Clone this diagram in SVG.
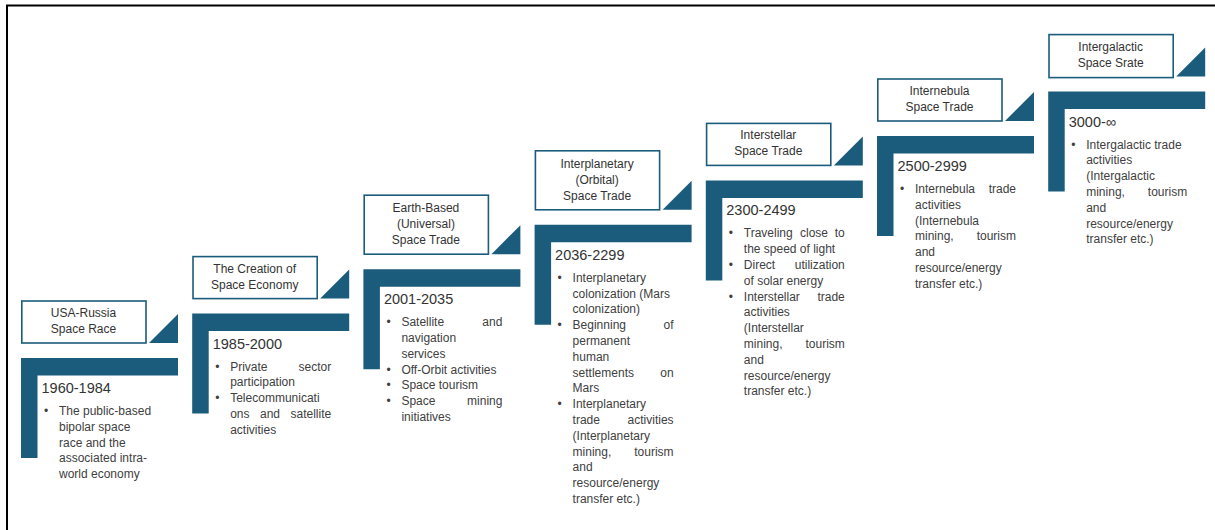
<svg xmlns="http://www.w3.org/2000/svg" width="1215" height="530" viewBox="0 0 1215 530">
<style>
.bg{fill:#fff}
.frame{fill:none;stroke:#000;stroke-width:2}
.bar{fill:#1b5c7c}
.box{fill:#fff;stroke:#1b5c7c;stroke-width:1.6}
.t{font-family:"Liberation Sans",Arial,sans-serif;font-size:12px;fill:#404040}
.h{fill:#333}
.c{text-anchor:middle}
.r{text-anchor:end}
.y{font-size:14.5px;fill:#333}
</style>
<defs>
<path id="L" d="M0,0 H157 V17.5 H16.5 V100 H0 Z"/>
<path id="tri" d="M128,-15 H157 V-44 Z"/>
</defs>
<rect class="bg" x="0" y="0" width="1215" height="530"/>
<path class="frame" d="M7,530 V5.5 H1215"/>

<g id="connectors"></g>

<g id="step1" transform="translate(21,358)">
<use href="#L" class="bar"/><use href="#tri" class="bar"/>
<rect class="box" x="0.8" y="-57" width="124.2" height="42"/>
<text class="t h c" x="62.5" y="-41">USA-Russia</text>
<text class="t h c" x="62.5" y="-25">Space Race</text>
<text class="t y" x="20.5" y="35">1960-1984</text>
<text class="t" x="23" y="57">•</text><text class="t" x="38" y="57">The public-based</text>
<text class="t" x="38" y="72.8">bipolar space</text>
<text class="t" x="38" y="88.6">race and the</text>
<text class="t" x="38" y="104.4">associated intra-</text>
<text class="t" x="38" y="120.2">world economy</text>
</g>

<g id="step2" transform="translate(192.2,313.6)">
<use href="#L" class="bar"/><use href="#tri" class="bar"/>
<rect class="box" x="0.8" y="-57" width="124.2" height="42"/>
<text class="t h c" x="62.5" y="-41">The Creation of</text>
<text class="t h c" x="62.5" y="-25">Space Economy</text>
<text class="t y" x="20.5" y="35">1985-2000</text>
<text class="t" x="23" y="57">•</text><text class="t" x="38" y="57">Private</text><text class="t r" x="139" y="57">sector</text>
<text class="t" x="38" y="72.8">participation</text>
<text class="t" x="23" y="88.6">•</text><text class="t" x="38" y="88.6">Telecommunicati</text>
<text class="t" x="38" y="104.4">ons</text><text class="t" x="67.8" y="104.4">and</text><text class="t r" x="139" y="104.4">satellite</text>
<text class="t" x="38" y="120.2">activities</text>
</g>

<g id="step3" transform="translate(363.4,269.2)">
<use href="#L" class="bar"/><use href="#tri" class="bar"/>
<rect class="box" x="0.8" y="-74" width="124.2" height="59"/>
<text class="t h c" x="62.5" y="-57.2">Earth-Based</text>
<text class="t h c" x="62.5" y="-41.2">(Universal)</text>
<text class="t h c" x="62.5" y="-25.2">Space Trade</text>
<text class="t y" x="20.5" y="35">2001-2035</text>
<text class="t" x="23" y="57">•</text><text class="t" x="38" y="57">Satellite</text><text class="t r" x="139" y="57">and</text>
<text class="t" x="38" y="72.8">navigation</text>
<text class="t" x="38" y="88.6">services</text>
<text class="t" x="23" y="104.4">•</text><text class="t" x="38" y="104.4">Off-Orbit activities</text>
<text class="t" x="23" y="120.2">•</text><text class="t" x="38" y="120.2">Space tourism</text>
<text class="t" x="23" y="136">•</text><text class="t" x="38" y="136">Space</text><text class="t r" x="139" y="136">mining</text>
<text class="t" x="38" y="151.8">initiatives</text>
</g>

<g id="step4" transform="translate(534.6,224.8)">
<use href="#L" class="bar"/><use href="#tri" class="bar"/>
<rect class="box" x="0.8" y="-74" width="124.2" height="59"/>
<text class="t h c" x="62.5" y="-57.2">Interplanetary</text>
<text class="t h c" x="62.5" y="-41.2">(Orbital)</text>
<text class="t h c" x="62.5" y="-25.2">Space Trade</text>
<text class="t y" x="20.5" y="35">2036-2299</text>
<text class="t" x="23" y="57">•</text><text class="t" x="38" y="57">Interplanetary</text>
<text class="t" x="38" y="72.8">colonization (Mars</text>
<text class="t" x="38" y="88.6">colonization)</text>
<text class="t" x="23" y="104.4">•</text><text class="t" x="38" y="104.4">Beginning</text><text class="t r" x="139" y="104.4">of</text>
<text class="t" x="38" y="120.2">permanent</text>
<text class="t" x="38" y="136">human</text>
<text class="t" x="38" y="151.8">settlements</text><text class="t r" x="139" y="151.8">on</text>
<text class="t" x="38" y="167.6">Mars</text>
<text class="t" x="23" y="183.4">•</text><text class="t" x="38" y="183.4">Interplanetary</text>
<text class="t" x="38" y="199.2">trade</text><text class="t r" x="139" y="199.2">activities</text>
<text class="t" x="38" y="215">(Interplanetary</text>
<text class="t" x="38" y="230.8">mining,</text><text class="t r" x="139" y="230.8">tourism</text>
<text class="t" x="38" y="246.6">and</text>
<text class="t" x="38" y="262.4">resource/energy</text>
<text class="t" x="38" y="278.2">transfer etc.)</text>
</g>

<g id="step5" transform="translate(705.8,180.4)">
<use href="#L" class="bar"/><use href="#tri" class="bar"/>
<rect class="box" x="0.8" y="-57" width="124.2" height="42"/>
<text class="t h c" x="62.5" y="-41">Interstellar</text>
<text class="t h c" x="62.5" y="-25">Space Trade</text>
<text class="t y" x="20.5" y="35">2300-2499</text>
<text class="t" x="23" y="57">•</text><text class="t" x="38" y="57">Traveling</text><text class="t" x="94.2" y="57">close</text><text class="t r" x="139" y="57">to</text>
<text class="t" x="38" y="72.8">the speed of light</text>
<text class="t" x="23" y="88.6">•</text><text class="t" x="38" y="88.6">Direct</text><text class="t r" x="139" y="88.6">utilization</text>
<text class="t" x="38" y="104.4">of solar energy</text>
<text class="t" x="23" y="120.2">•</text><text class="t" x="38" y="120.2">Interstellar</text><text class="t r" x="139" y="120.2">trade</text>
<text class="t" x="38" y="136">activities</text>
<text class="t" x="38" y="151.8">(Interstellar</text>
<text class="t" x="38" y="167.6">mining,</text><text class="t r" x="139" y="167.6">tourism</text>
<text class="t" x="38" y="183.4">and</text>
<text class="t" x="38" y="199.2">resource/energy</text>
<text class="t" x="38" y="215">transfer etc.)</text>
</g>

<g id="step6" transform="translate(877,136)">
<use href="#L" class="bar"/><use href="#tri" class="bar"/>
<rect class="box" x="0.8" y="-57" width="124.2" height="42"/>
<text class="t h c" x="62.5" y="-41">Internebula</text>
<text class="t h c" x="62.5" y="-25">Space Trade</text>
<text class="t y" x="20.5" y="35">2500-2999</text>
<text class="t" x="23" y="57">•</text><text class="t" x="38" y="57">Internebula</text><text class="t r" x="139" y="57">trade</text>
<text class="t" x="38" y="72.8">activities</text>
<text class="t" x="38" y="88.6">(Internebula</text>
<text class="t" x="38" y="104.4">mining,</text><text class="t r" x="139" y="104.4">tourism</text>
<text class="t" x="38" y="120.2">and</text>
<text class="t" x="38" y="136">resource/energy</text>
<text class="t" x="38" y="151.8">transfer etc.)</text>
</g>

<g id="step7" transform="translate(1048.2,91.6)">
<use href="#L" class="bar"/><use href="#tri" class="bar"/>
<rect class="box" x="0.8" y="-57" width="124.2" height="43"/>
<text class="t h c" x="62.5" y="-40.5">Intergalactic</text>
<text class="t h c" x="62.5" y="-24.5">Space Srate</text>
<text class="t y" x="20.5" y="35">3000-∞</text>
<text class="t" x="23" y="57">•</text><text class="t" x="38" y="57">Intergalactic trade</text>
<text class="t" x="38" y="72.8">activities</text>
<text class="t" x="38" y="88.6">(Intergalactic</text>
<text class="t" x="38" y="104.4">mining,</text><text class="t r" x="139" y="104.4">tourism</text>
<text class="t" x="38" y="120.2">and</text>
<text class="t" x="38" y="136">resource/energy</text>
<text class="t" x="38" y="151.8">transfer etc.)</text>
</g>
</svg>
